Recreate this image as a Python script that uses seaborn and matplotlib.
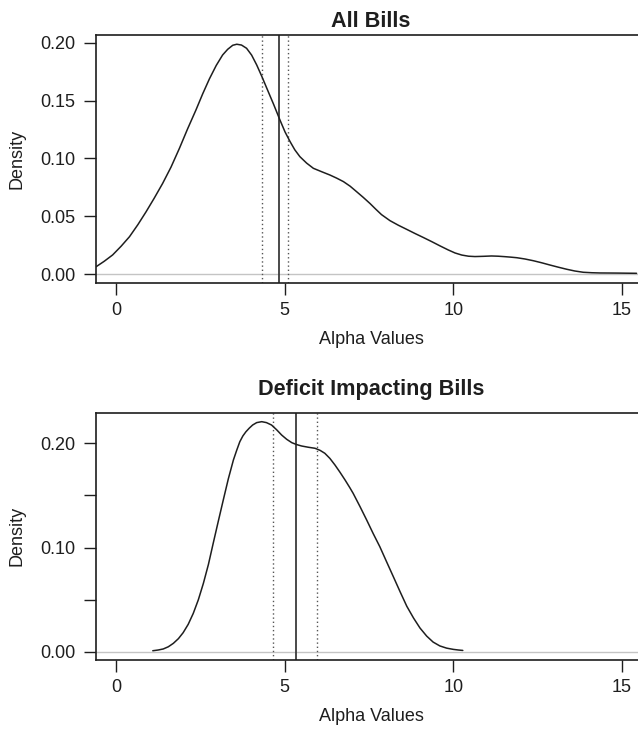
import matplotlib
matplotlib.use("Agg")
import matplotlib.pyplot as plt
import seaborn as sns
import pandas as pd

# density curve: All Bills
all_x = [-0.59, -0.35, -0.10, 0.15, 0.40, 0.65, 0.89, 1.13, 1.38, 1.63,
         1.88, 2.12, 2.37, 2.57, 2.77, 2.97, 3.16, 3.31, 3.46, 3.58, 3.72,
         3.87, 4.02, 4.17, 4.32, 4.47, 4.67, 4.86, 5.01, 5.16, 5.30, 5.45,
         5.65, 5.85, 6.10, 6.34, 6.54, 6.74, 6.94, 7.13, 7.33, 7.53, 7.70,
         7.87, 8.12, 8.37, 8.62, 8.86, 9.11, 9.36, 9.60, 9.85, 10.05, 10.25,
         10.45, 10.64, 10.88, 11.13, 11.33, 11.53, 11.70, 11.88, 12.12,
         12.37, 12.62, 12.86, 13.11, 13.36, 13.60, 13.85, 14.10, 14.34,
         14.84, 15.43]
all_y = [0.0063, 0.0110, 0.0165, 0.0240, 0.0323, 0.0428, 0.0538, 0.0655,
         0.0783, 0.0925, 0.1088, 0.1255, 0.142, 0.1560, 0.169, 0.1805, 0.1896,
         0.1945, 0.198, 0.1989, 0.1982, 0.1954, 0.1895, 0.181, 0.1712,
         0.1608, 0.1470, 0.1333, 0.1230, 0.1146, 0.1075, 0.1016, 0.0960,
         0.0915, 0.0885, 0.0857, 0.0830, 0.080, 0.0760, 0.0713, 0.0663,
         0.0610, 0.0561, 0.0514, 0.0462, 0.0422, 0.0386, 0.0351, 0.0316,
         0.028, 0.0244, 0.0208, 0.0182, 0.0164, 0.0154, 0.0151, 0.0153,
         0.0156, 0.0154, 0.015, 0.0146, 0.0141, 0.0130, 0.0115, 0.0097,
         0.0078, 0.0059, 0.0041, 0.0026, 0.0015, 0.0011, 0.0009, 0.0008,
         0.0006]

# density curve: Deficit Impacting Bills
def_x = [1.09, 1.25, 1.40, 1.55, 1.70, 1.85, 1.99, 2.14, 2.29, 2.44, 2.59,
         2.74, 2.88, 3.03, 3.18, 3.33, 3.48, 3.58, 3.67, 3.76, 3.85, 3.95,
         4.05, 4.17, 4.32, 4.46, 4.61, 4.76, 4.91, 5.06, 5.21, 5.35, 5.50,
         5.70, 5.90, 6.05, 6.19, 6.34, 6.49, 6.64, 6.79, 6.93, 7.03, 7.23,
         7.43, 7.62, 7.82, 8.02, 8.22, 8.42, 8.62, 8.82, 9.01, 9.21, 9.40,
         9.60, 9.80, 10.0, 10.15, 10.28]
def_y = [0.0012, 0.0019, 0.0029, 0.0050, 0.0083, 0.0128, 0.0185, 0.0265,
         0.037, 0.0500, 0.0658, 0.0840, 0.104, 0.1250, 0.1457, 0.1660, 0.184,
         0.1935, 0.2015, 0.2070, 0.2110, 0.2145, 0.2175, 0.2198, 0.2207,
         0.2198, 0.2175, 0.2130, 0.2079, 0.2038, 0.2006, 0.1988, 0.1974,
         0.1962, 0.1952, 0.1932, 0.1904, 0.1855, 0.1792, 0.1722, 0.1648,
         0.1575, 0.152, 0.1395, 0.1265, 0.1137, 0.1009, 0.0865, 0.0722,
         0.0578, 0.0438, 0.0325, 0.0230, 0.0152, 0.0095, 0.0058, 0.0037,
         0.0025, 0.0019, 0.0015]

# estimate (solid) and interval (dotted)
all_est = 4.82
all_ci = [4.32, 5.09]
def_est = 5.33
def_ci = [4.64, 5.95]

titles = ["All Bills", "Deficit Impacting Bills"]
x_ticks = [0, 5, 10, 15]
all_yticks = [0.00, 0.05, 0.10, 0.15, 0.20]
all_ylabels = ["0.00", "0.05", "0.10", "0.15", "0.20"]
def_yticks = [0.00, 0.05, 0.10, 0.15, 0.20]
def_ylabels = ["0.00", "", "0.10", "", "0.20"]

sns.set_style("white")
plt.rcParams['font.family'] = ['Liberation Sans', 'DejaVu Sans']

INK = "#1e1e1e"
W, H = 638, 731
fig = plt.figure(figsize=(W / 100, H / 100), dpi=100)


def panel(rect, xs, ys, est, ci, title, yticks, ylabels, ylim, pad):
    left, top, right, bottom = rect
    ax = fig.add_axes([left / W, 1 - bottom / H, (right - left) / W, (bottom - top) / H])
    df = pd.DataFrame({"x": xs, "y": ys})
    ax.axhline(0, color="#c4c4c4", lw=1.0, zorder=1)
    line = sns.lineplot(data=df, x="x", y="y", ax=ax, color=INK, lw=1.1,
                        estimator=None, sort=False, zorder=3)
    for ln in line.get_lines():
        ln.set_solid_joinstyle("round")
    ax.axvline(est, color="#3a3a3a", lw=1.3, zorder=2)
    for c in ci:
        ax.axvline(c, color="#555555", lw=1.0, ls=(0, (1, 2)), zorder=2)
    ax.set_xlim(-0.593, 15.71)
    ax.set_ylim(*ylim)
    ax.set_xticks(x_ticks)
    ax.set_xticklabels([str(t) for t in x_ticks])
    ax.set_yticks(yticks)
    ax.set_yticklabels(ylabels)
    ax.tick_params(axis="both", direction="out", length=8.4, width=1.0,
                   colors=INK, labelsize=13, labelcolor=INK,
                   bottom=True, left=True)
    ax.tick_params(axis="x", pad=5)
    ax.tick_params(axis="y", pad=6.5)
    for s in ax.spines.values():
        s.set_color(INK)
        s.set_linewidth(1.2)
    ax.set_xlabel("Alpha Values", fontsize=13, color=INK, labelpad=9)
    ax.set_ylabel("Density", fontsize=13, color=INK, labelpad=10.5)
    ax.set_title(title, fontsize=15.6, fontweight="bold", color=INK, pad=pad)
    return ax


panel((96, 35, 646, 283.3), all_x, all_y, all_est, all_ci, titles[0],
      all_yticks, all_ylabels, (-0.00805, 0.2069), 6)
panel((96, 412.7, 646, 660), def_x, def_y, def_est, def_ci, titles[1],
      def_yticks, def_ylabels, (-0.00767, 0.2293), 13)

fig.savefig("out.png", dpi=100)
